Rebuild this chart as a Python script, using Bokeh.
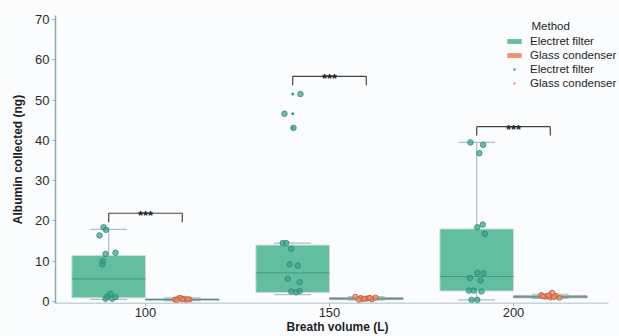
from bokeh.plotting import figure
from bokeh.models import ColumnDataSource, Legend, LegendItem, Label, FixedTicker, Range1d
from bokeh.embed import file_html
from bokeh.resources import INLINE
from bokeh.core.properties import value

# ---------------- data ----------------
categories = ["100", "150", "200"]
methods = ["Electret filter", "Glass condenser"]

# box statistics (ng)
elec_low = [0.5, 1.7, 0.4]
elec_q1 = [0.9, 2.2, 2.6]
elec_med = [5.6, 7.1, 6.2]
elec_q3 = [11.4, 14.0, 18.0]
elec_high = [17.9, 14.5, 39.5]

glass_low = [0.2, 0.35, 0.75]
glass_q1 = [0.35, 0.55, 0.95]
glass_med = [0.5, 0.7, 1.15]
glass_q3 = [0.6, 0.9, 1.4]
glass_high = [0.9, 1.2, 1.8]

# box-plot outliers: (category index, value)
elec_out_cat = [1, 1, 1]
elec_out_val = [51.5, 46.6, 43.1]
glass_out_cat = [2]
glass_out_val = [2.1]

# individual measurements
elec_100 = [18.4, 17.8, 16.4, 11.8, 12.1, 10.0, 9.2, 1.2, 0.7, 1.1, 0.7, 1.9]
elec_150 = [51.5, 46.6, 43.1, 14.5, 14.5, 13.1, 9.2, 8.9, 5.6, 4.8, 2.5, 2.3, 2.6]
elec_200 = [38.9, 39.5, 36.8, 18.4, 19.1, 16.8, 7.1, 7.0, 5.8, 5.2, 2.7, 2.7, 2.5, 0.4, 0.4]
glass_100 = [0.5, 0.8, 0.6, 0.4, 0.9, 0.5, 0.7, 0.3, 0.6, 0.5]
glass_150 = [1.2, 0.9, 0.7, 0.5, 1.0, 0.6, 0.8, 0.4, 0.9, 0.7]
glass_200 = [2.2, 1.6, 1.3, 1.0, 1.4, 1.2, 0.9, 1.5, 1.1, 1.3]

elec_100_j = [-0.228, -0.214, -0.25, -0.217, -0.163, -0.232, -0.235, -0.208, -0.181, -0.163, -0.217, -0.19]
elec_150_j = [-0.158, -0.245, -0.196, -0.254, -0.235, -0.208, -0.217, -0.172, -0.227, -0.163, -0.208, -0.181, -0.163]
elec_200_j = [-0.165, -0.234, -0.186, -0.197, -0.167, -0.156, -0.197, -0.163, -0.237, -0.179, -0.243, -0.216, -0.174, -0.228, -0.197]
glass_100_j = [0.16, 0.18, 0.2, 0.22, 0.19, 0.24, 0.21, 0.17, 0.23, 0.2]
glass_150_j = [0.14, 0.17, 0.2, 0.23, 0.25, 0.18, 0.21, 0.16, 0.22, 0.19]
glass_200_j = [0.21, 0.15, 0.18, 0.2, 0.23, 0.17, 0.25, 0.19, 0.22, 0.16]

# significance brackets
bracket_y = [21.9, 55.9, 43.4]
bracket_text = ["***", "***", "***"]

# ---------------- styling ----------------
GREEN = "#62BE9F"
ORANGE = "#EE9070"
GREEN_PT = "#35a08a"
ORANGE_PT = "#e8784a"
AXIS_C = "#8eaab5"
WHISK_C = "#a9c2c8"
BG = "#fbfcfd"
FONT = "Liberation Sans"

dodge = 0.2
box_w = 0.4
cap_w = 0.2
x_start, x_axis_end, x_end = 0.511, 3.516, 3.576
y_start, y_end = -0.5, 71

p = figure(width=619, height=336,
           x_range=Range1d(x_start, x_end), y_range=Range1d(y_start, y_end),
           output_backend="svg", toolbar_location=None,
           min_border_left=55, min_border_right=0, min_border_top=15, min_border_bottom=33)
p.background_fill_color = BG
p.border_fill_color = BG
p.outline_line_color = None
p.grid.visible = False

pos = [i + 1 for i in range(len(categories))]


def draw_boxes(xs, low, q1, med, q3, high, fill, line):
    src = ColumnDataSource(dict(
        x=xs, low=low, q1=q1, med=med, q3=q3, high=high,
        x0=[x - box_w / 2 for x in xs], x1=[x + box_w / 2 for x in xs],
        c0=[x - cap_w / 2 for x in xs], c1=[x + cap_w / 2 for x in xs]))
    # whiskers
    p.segment(x0="x", y0="q3", x1="x", y1="high", source=src, line_color=WHISK_C, line_width=1.2)
    p.segment(x0="x", y0="q1", x1="x", y1="low", source=src, line_color=WHISK_C, line_width=1.2)
    p.segment(x0="c0", y0="high", x1="c1", y1="high", source=src, line_color=WHISK_C, line_width=1.2)
    p.segment(x0="c0", y0="low", x1="c1", y1="low", source=src, line_color=WHISK_C, line_width=1.2)
    # box
    r = p.vbar(x="x", width=box_w, bottom="q1", top="q3", source=src,
               fill_color=fill, line_color=line, line_width=1)
    p.segment(x0="x0", y0="med", x1="x1", y1="med", source=src, line_color="#4f9482", line_width=1)
    return r


elec_x = [x - dodge for x in pos]
glass_x = [x + dodge for x in pos]
draw_boxes(elec_x, elec_low, elec_q1, elec_med, elec_q3, elec_high, GREEN, "#cfdcd8")
draw_boxes(glass_x, glass_low, glass_q1, glass_med, glass_q3, glass_high, ORANGE, "#8f9ea3")

# outliers (small dots)
p.scatter(x=[pos[i] - dodge for i in elec_out_cat], y=elec_out_val, size=3,
          fill_color=GREEN_PT, line_color=None)
p.scatter(x=[pos[i] + dodge for i in glass_out_cat], y=glass_out_val, size=3,
          fill_color=ORANGE_PT, line_color=None)

# jittered measurements
ex, ey = [], []
for i, (vals, jit) in enumerate([(elec_100, elec_100_j), (elec_150, elec_150_j), (elec_200, elec_200_j)]):
    ex += [pos[i] + j for j in jit]
    ey += vals
gx, gy = [], []
for i, (vals, jit) in enumerate([(glass_100, glass_100_j), (glass_150, glass_150_j), (glass_200, glass_200_j)]):
    gx += [pos[i] + j for j in jit]
    gy += vals
p.scatter(x=ex, y=ey, size=5.5, fill_color=GREEN_PT, fill_alpha=0.7,
          line_color="#2f8c79", line_alpha=0.85, line_width=1)
p.scatter(x=gx, y=gy, size=5, fill_color=ORANGE, fill_alpha=0.75,
          line_color="#c8653e", line_width=1)

# significance brackets
drop = 2.2
bsrc = ColumnDataSource(dict(
    xl=[x - dodge for x in pos], xr=[x + dodge for x in pos], xc=pos,
    y=bracket_y, yb=[b - drop for b in bracket_y], ty=[b - 0.6 for b in bracket_y],
    t=bracket_text))
p.segment(x0="xl", y0="y", x1="xr", y1="y", source=bsrc, line_color="#444444", line_width=1.2)
p.segment(x0="xl", y0="y", x1="xl", y1="yb", source=bsrc, line_color="#444444", line_width=1.2)
p.segment(x0="xr", y0="y", x1="xr", y1="yb", source=bsrc, line_color="#444444", line_width=1.2)
p.text(x="xc", y="ty", text="t", source=bsrc, text_align="center", text_baseline="alphabetic",
       text_font=value(FONT), text_font_size="13px", text_font_style="bold", text_color="#222222")

# axes
p.xaxis.ticker = FixedTicker(ticks=pos)
p.xaxis.major_label_overrides = {pos[i]: categories[i] for i in range(len(categories))}
p.yaxis.ticker = FixedTicker(ticks=[0, 10, 20, 30, 40, 50, 60, 70])
for ax in (p.xaxis[0], p.yaxis[0]):
    ax.axis_line_color = AXIS_C
    ax.axis_line_width = 1.5
    ax.major_tick_line_color = AXIS_C
    ax.major_tick_out = 3
    ax.major_tick_in = 0
    ax.minor_tick_line_color = None
    ax.major_label_text_font = FONT
    ax.major_label_text_font_size = "13px"
    ax.major_label_text_color = "#2b2b2b"
    ax.axis_label_text_font = FONT
    ax.axis_label_text_font_size = "12px"
    ax.axis_label_text_font_style = "bold"
    ax.axis_label_text_color = "#1e1e1e"
# x axis line only as long as the panel in the reference
p.xaxis.axis_line_color = None
p.segment(x0=[x_start], y0=[y_start], x1=[x_axis_end], y1=[y_start], line_color=AXIS_C, line_width=1.5)
p.xaxis.major_label_standoff = 1
p.xaxis.axis_label = "Breath volume (L)"
p.xaxis.axis_label_standoff = 0
p.yaxis.major_label_standoff = 3
p.yaxis.axis_label = "Albumin collected (ng)"
p.yaxis.axis_label_standoff = 7

# legend (proxy renderers placed outside the visible range)
dummy = ColumnDataSource(dict(x=[-10], y=[-10]))
r1 = p.vbar(x="x", top="y", width=0.1, source=dummy, fill_color=GREEN, line_color=None)
r2 = p.vbar(x="x", top="y", width=0.1, source=dummy, fill_color=ORANGE, line_color=None)
r3 = p.scatter(x="x", y="y", source=dummy, size=3, fill_color=GREEN_PT, line_color=None)
r4 = p.scatter(x="x", y="y", source=dummy, size=3, fill_color=ORANGE, line_color=None)
legend = Legend(items=[LegendItem(label=methods[0], renderers=[r1]),
                       LegendItem(label=methods[1], renderers=[r2]),
                       LegendItem(label=methods[0], renderers=[r3]),
                       LegendItem(label=methods[1], renderers=[r4])],
                location=(450, 213), glyph_width=18, glyph_height=6,
                label_height=14, label_standoff=7, spacing=0, padding=0, margin=0,
                border_line_color=None, background_fill_alpha=0,
                label_text_font=FONT, label_text_font_size="11.5px", label_text_color="#1e1e1e")
p.add_layout(legend)
p.add_layout(Label(x=476, y=278, x_units="screen", y_units="screen", text="Method",
                   text_baseline="middle", text_font=FONT, text_font_size="11.5px",
                   text_color="#1e1e1e"))

open("out.html", "w").write(file_html(p, INLINE))
